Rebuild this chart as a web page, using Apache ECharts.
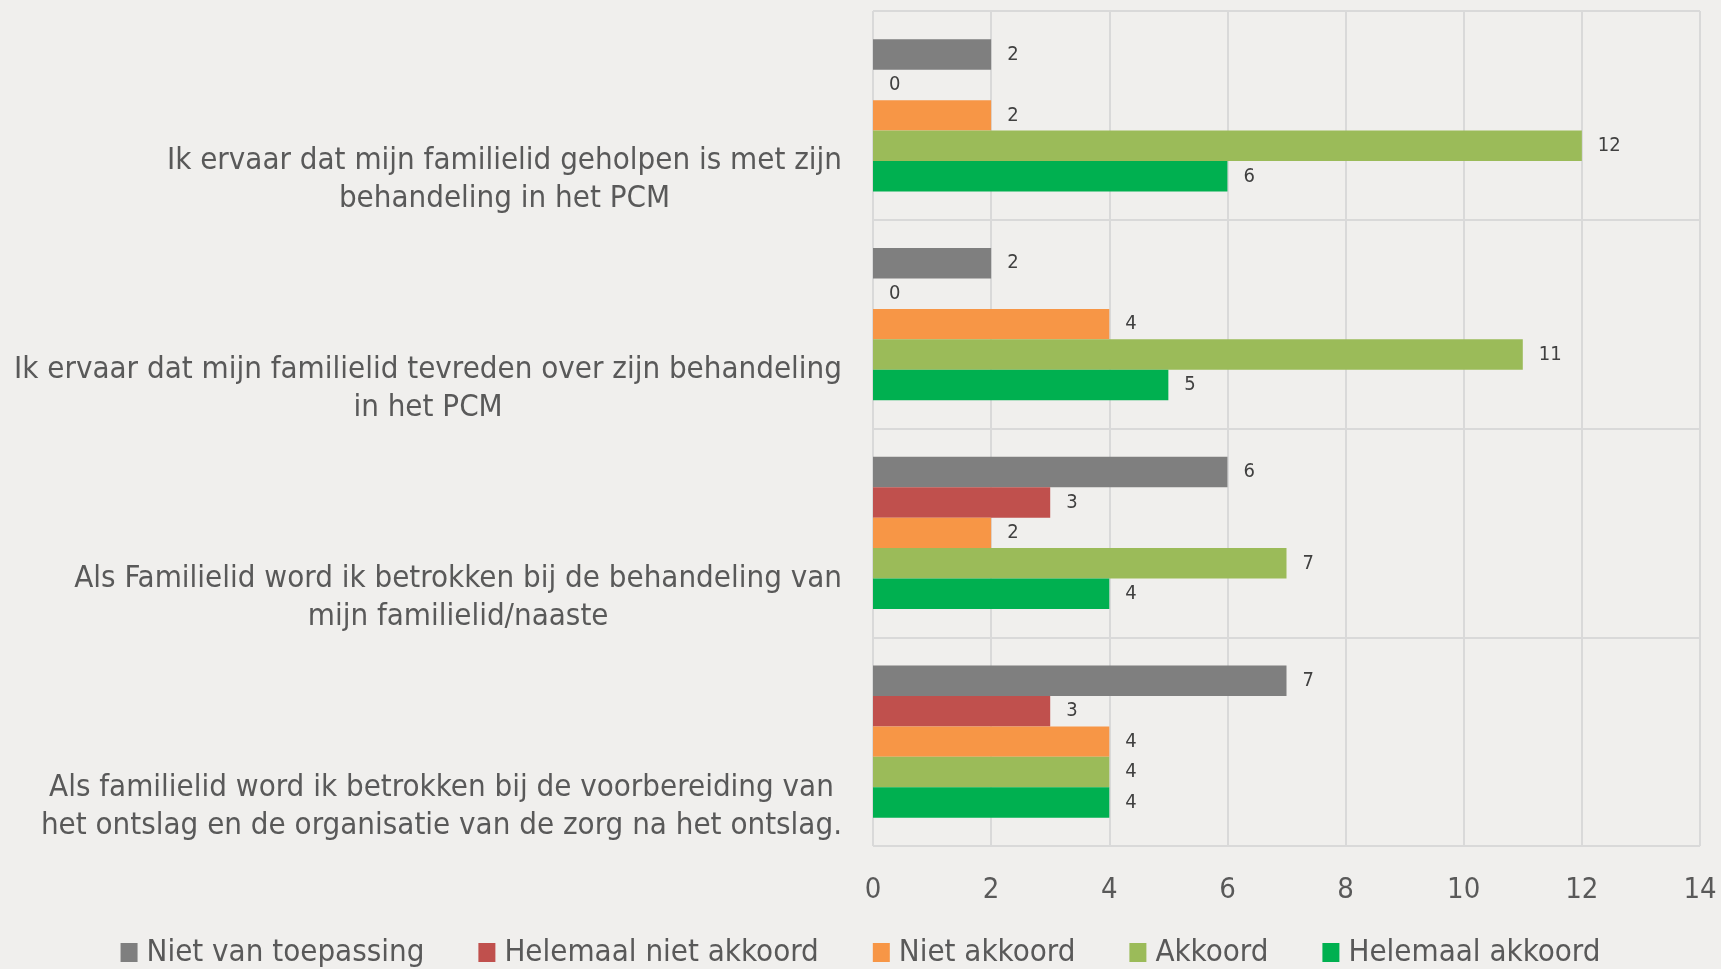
<!DOCTYPE html>
<html>
<head>
<meta charset="utf-8">
<script src="https://cdn.jsdelivr.net/npm/echarts@6/dist/echarts.min.js"></script>
<style>
    html, body { margin: 0; padding: 0; background: #f0efed; }
    #chart { width: 1721px; height: 969px; }
</style>
</head>
<body>
<div id="chart"></div>
<script>
    // vragen (van boven naar beneden)
    const categories = [
        ['Ik ervaar dat mijn familielid geholpen is met zijn', 'behandeling in het PCM'],
        ['Ik ervaar dat mijn familielid tevreden over zijn behandeling', 'in het PCM'],
        ['Als Familielid word ik betrokken bij de behandeling van', 'mijn familielid/naaste'],
        ['Als familielid word ik betrokken bij de voorbereiding van', 'het ontslag en de organisatie van de zorg na het ontslag.']
    ];
    const seriesNames = ['Niet van toepassing', 'Helemaal niet akkoord', 'Niet akkoord', 'Akkoord', 'Helemaal akkoord'];
    const nietVanToepassing = [2, 2, 6, 7];
    const helemaalNietAkkoord = [0, 0, 3, 3];
    const nietAkkoord = [2, 4, 2, 4];
    const akkoord = [12, 11, 7, 4];
    const helemaalAkkoord = [6, 5, 4, 4];
    const xTicks = [0, 2, 4, 6, 8, 10, 12, 14];

    const colors = ['#7f7f7f', '#c0504d', '#f79646', '#9bbb59', '#00b050'];
    const values = [nietVanToepassing, helemaalNietAkkoord, nietAkkoord, akkoord, helemaalAkkoord];
    const font = "'DejaVu Sans Condensed', 'Liberation Sans Narrow', sans-serif";

    let myChart = echarts.init(document.getElementById('chart'));
    myChart.setOption({
        backgroundColor: '#f0efed',
        textStyle: { fontFamily: font },
        legend: {
            bottom: -4,
            left: 'center',
            itemWidth: 17,
            itemHeight: 19,
            itemGap: 54,
            icon: 'rect',
            textStyle: { fontSize: 31, color: '#595959', fontFamily: font, padding: [0, 0, 0, 4] },
            data: seriesNames
        },
        grid: {
            left: 873,
            right: 21,
            top: 11,
            bottom: 123
        },
        xAxis: {
            type: 'value',
            min: xTicks[0],
            max: xTicks[xTicks.length - 1],
            interval: 2,
            axisLine: { show: false },
            axisTick: { show: false },
            axisLabel: { fontSize: 29, color: '#595959', margin: 30, fontFamily: font },
            splitLine: { show: true, lineStyle: { color: '#d9d9d9', width: 2 } }
        },
        yAxis: {
            type: 'category',
            inverse: true,
            data: categories.map(c => c.map(l => '{c|' + l + '}').join('\n')),
            axisLine: { show: false },
            axisTick: { show: false },
            splitLine: { show: true, lineStyle: { color: '#d9d9d9', width: 2 } },
            axisLabel: {
                margin: 31,
                align: 'right',
                color: '#595959',
                padding: [130, 0, 0, 0],
                rich: {
                    c: { align: 'center', fontSize: 31, lineHeight: 38, color: '#595959', fontFamily: font }
                }
            }
        },
        series: values.map((v, i) => ({
            name: seriesNames[i],
            type: 'bar',
            data: v,
            barGap: '0%',
            barCategoryGap: '27%',
            itemStyle: { color: colors[i] },
            label: {
                show: true,
                position: 'right',
                distance: 16,
                fontSize: 20,
                color: '#404040',
                fontFamily: font
            }
        }))
    });

    window.addEventListener('resize', function () {
        myChart.resize();
    });
</script>
</body>
</html>
